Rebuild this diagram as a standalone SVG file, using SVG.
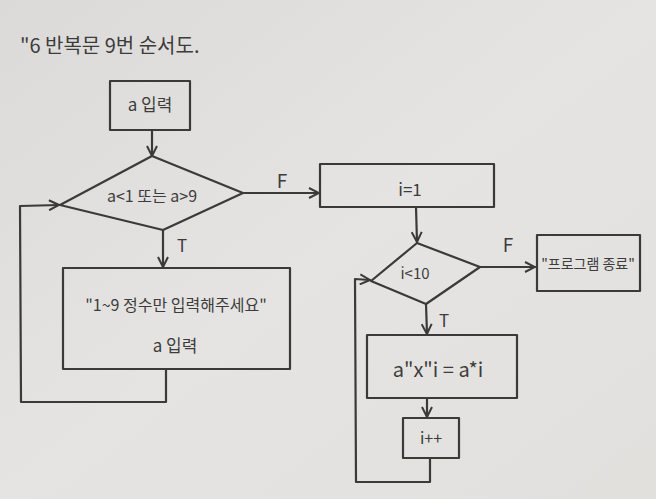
<svg xmlns="http://www.w3.org/2000/svg" width="656" height="499" viewBox="0 0 656 499">
<defs>
<linearGradient id="bg" x1="0" y1="0" x2="1" y2="1">
<stop offset="0" stop-color="#dcdad8"/>
<stop offset="0.5" stop-color="#e6e4e2"/>
<stop offset="1" stop-color="#e2e0dd"/>
</linearGradient>
<marker id="ah" viewBox="0 0 12 12" refX="11" refY="6" markerWidth="12" markerHeight="12" markerUnits="userSpaceOnUse" orient="auto">
<path d="M1,1 L11,6 L1,11" fill="none" stroke="#3a3a3a" stroke-width="2"/>
</marker>
<style>
.s{fill:none;stroke:#3a3a3a;stroke-width:2.2;stroke-linejoin:round;stroke-linecap:round}
.t{font-family:"Noto Sans CJK KR","Noto Sans",sans-serif;fill:#3c3c3c;text-anchor:middle}
</style>
</defs>
<rect width="656" height="499" fill="url(#bg)"/>
<text x="20" y="53" class="t" style="text-anchor:start;font-size:20px">"6 반복문 9번 순서도.</text>
<g id="connectors">
<path class="s" d="M152,130 L152,156" marker-end="url(#ah)"/>
<path class="s" d="M163,230 L163,267" marker-end="url(#ah)"/>
<path class="s" d="M243,193 L319,193" marker-end="url(#ah)"/>
<path class="s" d="M166,369 L166,402 L21,402 L20,206 L59,205" marker-end="url(#ah)"/>
<path class="s" d="M416,207 L417,242" marker-end="url(#ah)"/>
<path class="s" d="M480,267 L535,267" marker-end="url(#ah)"/>
<path class="s" d="M426,304 L427,334" marker-end="url(#ah)"/>
<path class="s" d="M427,398 L427,417" marker-end="url(#ah)"/>
<path class="s" d="M430,458 L430,482 L356,482 L355,279 L370,280" marker-end="url(#ah)"/>
<text x="182" y="252" class="t" style="font-size:17px">T</text>
<text x="282" y="188" class="t" style="font-size:19px">F</text>
<text x="508" y="252" class="t" style="font-size:19px">F</text>
<text x="444" y="327" class="t" style="font-size:17px">T</text>
</g>
<g id="node-input">
<rect class="s" x="110" y="81" width="80" height="49"/>
<text x="150" y="111" class="t" style="font-size:17px">a 입력</text>
</g>
<g id="node-cond1">
<path class="s" d="M152,156 L243,193 L163,230 L60,205 Z"/>
<text x="152" y="202" class="t" style="font-size:16px">a&lt;1 또는 a&gt;9</text>
</g>
<g id="node-retry">
<rect class="s" x="63" y="268" width="227" height="101"/>
<text x="176" y="311" class="t" style="font-size:16px">"1~9 정수만 입력해주세요"</text>
<text x="175" y="352" class="t" style="font-size:17px">a 입력</text>
</g>
<g id="node-init">
<rect class="s" x="320" y="164" width="174" height="43"/>
<text x="410" y="196" class="t" style="font-size:17px">i=1</text>
</g>
<g id="node-cond2">
<path class="s" d="M417,243 L480,267 L426,304 L371,281 Z"/>
<text x="415" y="279" class="t" style="font-size:15px">i&lt;10</text>
</g>
<g id="node-end">
<rect class="s" x="537" y="235" width="103" height="56"/>
<text x="588" y="269" class="t" style="font-size:14px">"프로그램 종료"</text>
</g>
<g id="node-print">
<rect class="s" x="367" y="335" width="150" height="63"/>
<text x="438" y="377" class="t" style="font-size:20px">a"x"i = a*i</text>
</g>
<g id="node-inc">
<rect class="s" x="403" y="418" width="56" height="40"/>
<text x="431" y="444" class="t" style="font-size:16px">i++</text>
</g>
</svg>
